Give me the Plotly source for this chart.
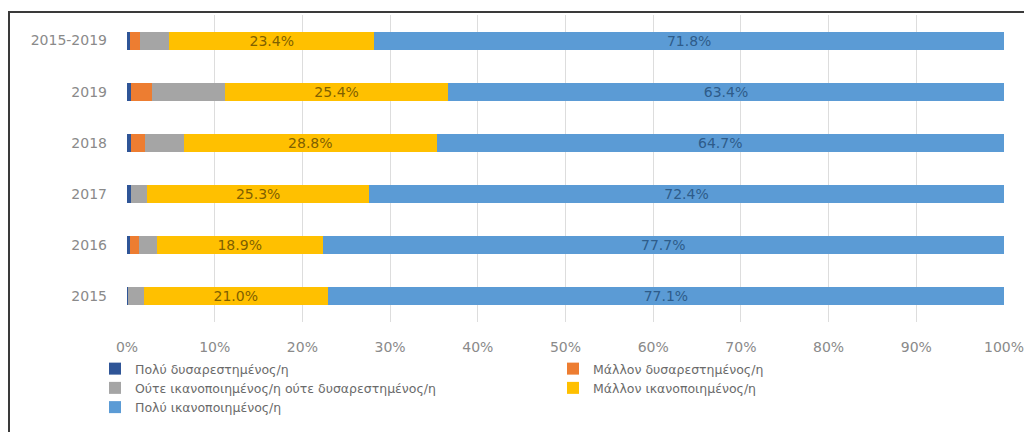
import plotly.graph_objects as go

# ---------------- data ----------------
categories = ["2015", "2016", "2017", "2018", "2019", "2015-2019"]
series_names = [
    "Πολύ δυσαρεστημένος/η",
    "Μάλλον δυσαρεστημένος/η",
    "Ούτε ικανοποιημένος/η ούτε δυσαρεστημένος/η",
    "Μάλλον ικανοποιημένος/η",
    "Πολύ ικανοποιημένος/η",
]
very_dissatisfied = [0.1, 0.3, 0.5, 0.4, 0.4, 0.3]
rather_dissatisfied = [0.0, 1.1, 0.0, 1.6, 2.5, 1.2]
neither = [1.8, 2.0, 1.8, 4.5, 8.3, 3.3]
rather_satisfied = [21.0, 18.9, 25.3, 28.8, 25.4, 23.4]
very_satisfied = [77.1, 77.7, 72.4, 64.7, 63.4, 71.8]
x_ticks = list(range(0, 101, 10))
x_tick_labels = [f"{v}%" for v in x_ticks]

# ---------------- style ----------------
OFF = 8                       # page body margin
W, H = 1024, 424              # figure size inside the window
# target pixel positions in the window
PL, PR, PT, PB = 127, 1004, 15, 322
ML, MR, MT, MB = PL - OFF, W - (PR - OFF), PT - OFF, H - (PB - OFF)
FONT = "DejaVu Sans"
colors = ["#2F5597", "#ED7D31", "#A5A5A5", "#FFC000", "#5B9BD5"]
label_colors = [None, None, None, "#7F6000", "#2E5C8A"]
values = [very_dissatisfied, rather_dissatisfied, neither, rather_satisfied, very_satisfied]

fig = go.Figure()
for name, vals, col, lcol in zip(series_names, values, colors, label_colors):
    kw = {}
    if lcol:
        kw = dict(
            texttemplate="%{x:.1f}%",
            textposition="inside",
            insidetextanchor="middle",
            textangle=0,
            constraintext="none",
            insidetextfont=dict(family=FONT, size=14, color=lcol),
        )
    fig.add_trace(go.Bar(
        y=categories, x=vals, name=name, orientation="h",
        marker=dict(color=col, line=dict(width=0)),
        hoverinfo="skip", **kw,
    ))

pw = PR - PL
ph = PB - PT

def px_x(p):
    return (p - PL) / pw

def px_y(p):
    return (PB - p) / ph

# outer frame (left, top, right edges)
fx0, fx1 = px_x(OFF + 1), px_x(OFF + W - 1)
fy0, fy1 = px_y(OFF + H + 5), px_y(12)
fig.add_shape(type="path", xref="paper", yref="paper",
              path=f"M {fx0},{fy0} L {fx0},{fy1} L {fx1},{fy1} L {fx1},{fy0}",
              line=dict(color="#3a3a3a", width=2))

fig.update_layout(
    width=W, height=H,
    margin=dict(l=ML, r=MR, t=MT, b=MB, autoexpand=False),
    barmode="stack",
    bargap=0.65,
    plot_bgcolor="white",
    paper_bgcolor="white",
    font=dict(family=FONT, size=13, color="#7F7F7F"),
    xaxis=dict(
        range=[0, 100], tickmode="array", tickvals=x_ticks, ticktext=x_tick_labels,
        showgrid=True, gridcolor="#DDDDDD", gridwidth=1,
        zeroline=False, showline=False, ticks="",
        ticklabelstandoff=15,
        tickfont=dict(family=FONT, size=14, color="#8A8A8A"),
        fixedrange=True,
    ),
    yaxis=dict(
        type="category", categoryorder="array", categoryarray=categories,
        showgrid=False, zeroline=False, showline=False, ticks="",
        ticklabelstandoff=19,
        tickfont=dict(family=FONT, size=14, color="#8A8A8A"),
        fixedrange=True,
    ),
    showlegend=True,
    legend=dict(
        orientation="h", traceorder="normal",
        x=px_x(95), xanchor="left",
        y=px_y(354), yanchor="top",
        entrywidthmode="pixels", entrywidth=413,
        font=dict(family=FONT, size=12.5, color="#6A6A6A"),
        bgcolor="rgba(0,0,0,0)",
        itemclick=False, itemdoubleclick=False,
    ),
)

fig.write_html("out.html")
